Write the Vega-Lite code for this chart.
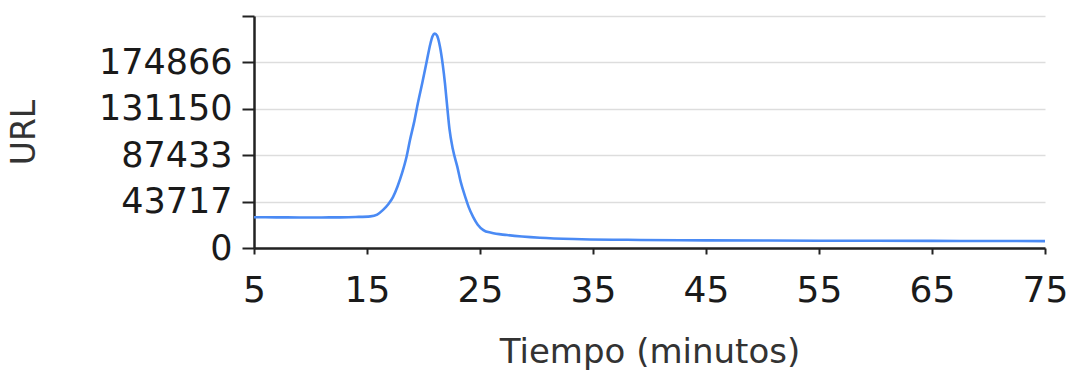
{
  "$schema": "https://vega.github.io/schema/vega-lite/v6.json",
  "width": 791,
  "height": 232,
  "autosize": {"type": "none"},
  "padding": {"left": 254, "top": 16, "right": 26, "bottom": 122},
  "background": "white",
  "data": {
    "values": [
      {"t": 5, "v": 29000},
      {"t": 7, "v": 28900},
      {"t": 9, "v": 28800},
      {"t": 11, "v": 28800},
      {"t": 12.6, "v": 28900},
      {"t": 14, "v": 29200},
      {"t": 15.3, "v": 29800},
      {"t": 15.9, "v": 31500},
      {"t": 16.4, "v": 35700},
      {"t": 16.9, "v": 41500},
      {"t": 17.3, "v": 48000},
      {"t": 17.7, "v": 58000},
      {"t": 18.1, "v": 70500},
      {"t": 18.5, "v": 86000},
      {"t": 18.8, "v": 101500},
      {"t": 19.2, "v": 120000},
      {"t": 19.5, "v": 136300},
      {"t": 19.9, "v": 156000},
      {"t": 20.3, "v": 176700},
      {"t": 20.6, "v": 192000},
      {"t": 20.8, "v": 199500},
      {"t": 21.0, "v": 202000},
      {"t": 21.2, "v": 200000},
      {"t": 21.45, "v": 190000},
      {"t": 21.7, "v": 173000},
      {"t": 21.9, "v": 155100},
      {"t": 22.1, "v": 133000},
      {"t": 22.3, "v": 112000},
      {"t": 22.6, "v": 93000},
      {"t": 23.0, "v": 76200},
      {"t": 23.3, "v": 62000},
      {"t": 23.7, "v": 48000},
      {"t": 24.0, "v": 38500},
      {"t": 24.4, "v": 29100},
      {"t": 24.8, "v": 22000},
      {"t": 25.3, "v": 16900},
      {"t": 26.0, "v": 14300},
      {"t": 27.4, "v": 12200},
      {"t": 30.3, "v": 9600},
      {"t": 34, "v": 8300},
      {"t": 39.2, "v": 7600},
      {"t": 45, "v": 7200},
      {"t": 55, "v": 6900},
      {"t": 65, "v": 6700},
      {"t": 70, "v": 6600},
      {"t": 75, "v": 6500}
    ]
  },
  "mark": {"type": "line", "color": "#4a8af4", "strokeWidth": 2.6, "interpolate": "monotone", "clip": true},
  "encoding": {
    "x": {
      "field": "t",
      "type": "quantitative",
      "scale": {"domain": [5, 75], "nice": false, "zero": false},
      "axis": {
        "values": [5, 15, 25, 35, 45, 55, 65, 75],
        "title": "Tiempo (minutos)",
        "grid": false,
        "domainColor": "#222222",
        "domainWidth": 2.5,
        "tickColor": "#222222",
        "tickWidth": 2,
        "tickSize": 6,
        "labelFont": "DejaVu Sans",
        "labelFontSize": 36,
        "labelColor": "#1a1a1a",
        "labelPadding": 19,
        "labelFlush": false,
        "titleFont": "DejaVu Sans",
        "titleFontSize": 34,
        "titleFontWeight": "normal",
        "titleColor": "#333333",
        "titlePadding": 27
      }
    },
    "y": {
      "field": "v",
      "type": "quantitative",
      "scale": {"domain": [0, 218583], "nice": false},
      "axis": {
        "values": [0, 43717, 87433, 131150, 174866, 218583],
        "format": "d",
        "labelExpr": "datum.value > 200000 ? '' : datum.label",
        "title": "URL",
        "grid": true,
        "gridColor": "#dddddd",
        "gridWidth": 1.5,
        "domainColor": "#222222",
        "domainWidth": 2.5,
        "tickColor": "#222222",
        "tickWidth": 2,
        "tickSize": 12,
        "labelFont": "DejaVu Sans",
        "labelFontSize": 35,
        "labelColor": "#1a1a1a",
        "labelPadding": 10,
        "labelFlush": false,
        "titleFont": "DejaVu Sans",
        "titleFontSize": 33,
        "titleFontWeight": "normal",
        "titleColor": "#333333",
        "titlePadding": 57
      }
    }
  },
  "config": {"view": {"stroke": null}}
}
